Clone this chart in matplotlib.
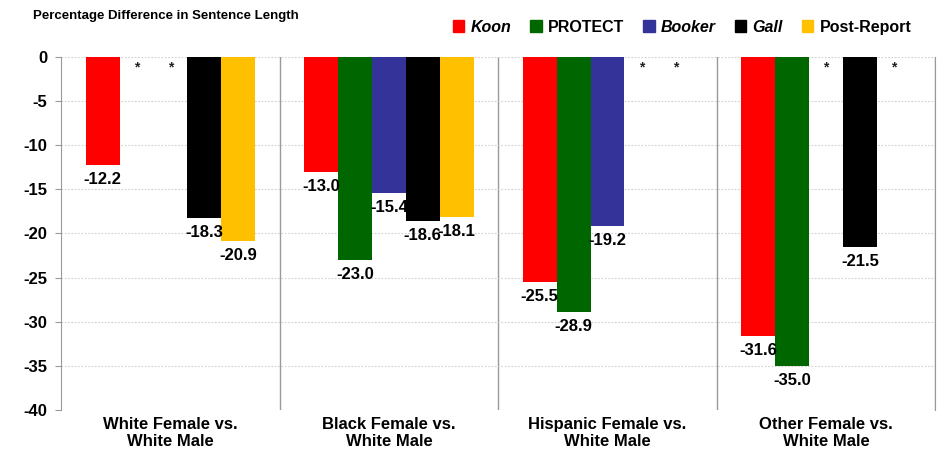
import numpy as np
import matplotlib.pyplot as plt
from matplotlib.patches import Patch

categories = ["White Female vs.\nWhite Male", "Black Female vs.\nWhite Male",
              "Hispanic Female vs.\nWhite Male", "Other Female vs.\nWhite Male"]
series = ["Koon", "PROTECT", "Booker", "Gall", "Post-Report"]
colors = ["#FF0000", "#006600", "#333399", "#000000", "#FFC000"]
italic = [True, False, True, True, False]

# None = not significant (shown as *)
koon = [-12.2, -13.0, -25.5, -31.6]
protect = [None, -23.0, -28.9, -35.0]
booker = [None, -15.4, -19.2, None]
gall = [-18.3, -18.6, None, -21.5]
post_report = [-20.9, -18.1, None, None]
values = [koon, protect, booker, gall, post_report]

plt.rcParams["font.family"] = ["Liberation Sans", "DejaVu Sans"]

fig = plt.figure(figsize=(9.4, 4.51), dpi=100)
ax = fig.add_axes([0.065, 0.091, 0.93, 0.783])

x = np.arange(len(categories))
width = 0.155
for i, (name, vals, col) in enumerate(zip(series, values, colors)):
    pos = x + (i - 2) * width
    for p, v in zip(pos, vals):
        if v is None:
            ax.text(p, -1.2, "*", ha="center", va="center", fontsize=10,
                    fontweight="bold", color="#222222")
        else:
            ax.bar(p, v, width=width, color=col, zorder=3)
            ax.text(p, v - 0.8, f"{v:.1f}", ha="center", va="top",
                    fontsize=12, fontweight="bold", zorder=4)

ax.set_xlim(-0.5, len(categories) - 0.5)
ax.set_ylim(-40, 0)
ax.set_yticks(np.arange(-40, 1, 5))
ax.set_yticklabels([str(t) for t in range(-40, 1, 5)], fontsize=12, fontweight="bold")
ax.yaxis.grid(True, linestyle=(0, (1.5, 1.5)), color="#d0d0d0", linewidth=0.8, zorder=0)
ax.set_xticks(x)
ax.set_xticklabels(categories, fontsize=12, fontweight="bold", linespacing=1.15)
ax.tick_params(axis="x", length=0, pad=5)
ax.tick_params(axis="y", length=4, color="#999999", pad=6)

for xs in np.arange(0.5, len(categories), 1.0):
    ax.axvline(xs, color="#999999", linewidth=1, zorder=1)

for s in ["top", "bottom"]:
    ax.spines[s].set_visible(False)
for s in ["left", "right"]:
    ax.spines[s].set_color("#999999")

fig.text(0.035, 0.965, "Percentage Difference in Sentence Length", fontsize=9.5,
         fontweight="bold", va="center")

handles = [Patch(color=c) for c in colors]
leg = fig.legend(handles, series, loc="center right", bbox_to_anchor=(0.985, 0.94),
                 ncol=5, frameon=False, handlelength=0.7, handleheight=0.7,
                 handletextpad=0.4, columnspacing=1.2, prop={"weight": "bold", "size": 11.5})
for t, it in zip(leg.get_texts(), italic):
    if it:
        t.set_fontstyle("italic")

fig.savefig("out.png", dpi=100)
